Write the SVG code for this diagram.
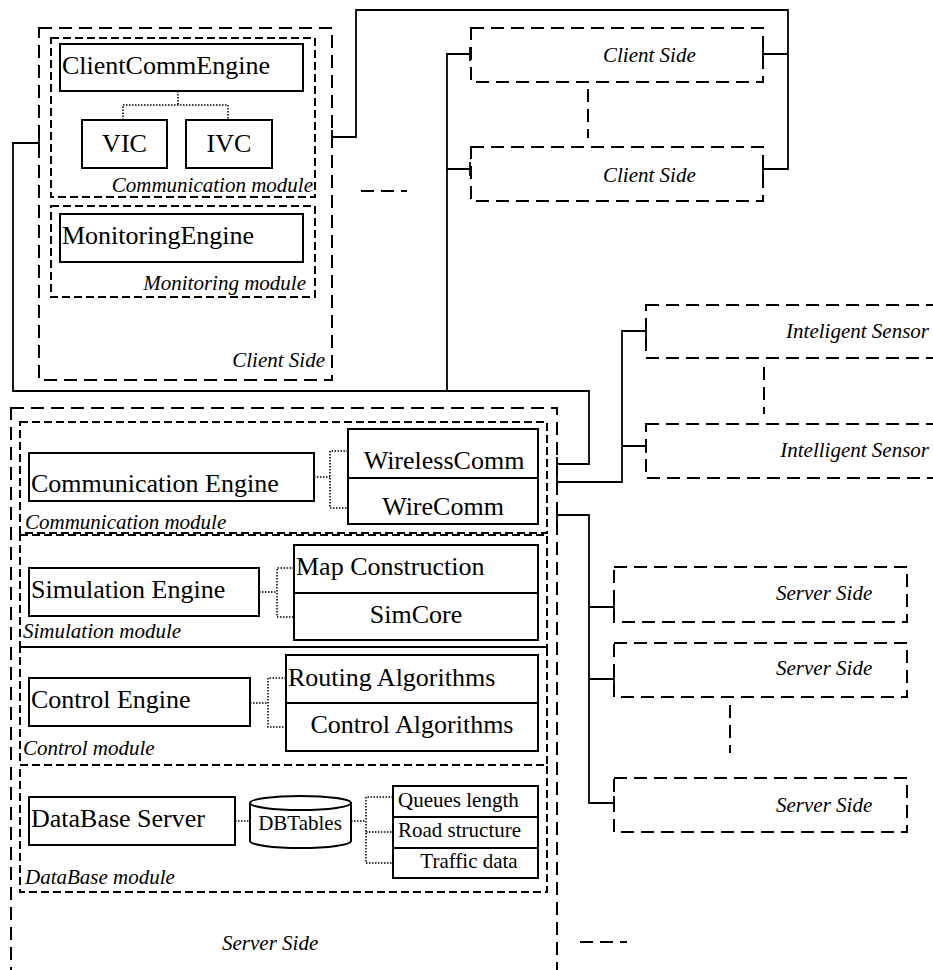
<svg xmlns="http://www.w3.org/2000/svg" width="933" height="970" viewBox="0 0 933 970">
<style>
.big{fill:none;stroke:#000;stroke-width:2;stroke-dasharray:13 7}
.mod{fill:none;stroke:#000;stroke-width:2;stroke-dasharray:8 4}
.box{fill:#fff;stroke:#000;stroke-width:2}
.dot{fill:none;stroke:#000;stroke-width:1.5;stroke-dasharray:1.5 1.5}
.wire{fill:none;stroke:#000;stroke-width:1.8}
.t{font-family:"Liberation Serif","Times New Roman",serif;font-size:26px;fill:#000}
.s{font-family:"Liberation Serif","Times New Roman",serif;font-size:21px;fill:#000}
.i{font-family:"Liberation Serif","Times New Roman",serif;font-size:21px;font-style:italic;fill:#000}
.m{text-anchor:middle}
.e{text-anchor:end}
</style>
<rect width="933" height="970" fill="#fff"/>

<g id="connectors">
<path class="wire" d="M39,143 H13 V391 H589 V464 H557"/>
<path class="wire" d="M447,391 V54 H470 M447,169 H470"/>
<path class="wire" d="M332,137 H356 V10 H788 V169 H763 M788,54 H763"/>
<path class="wire" d="M557,482 H622 V331 H646 M622,446 H646"/>
<path class="wire" d="M557,515 H589 V803 H614 M589,607 H614 M589,679 H614"/>
<path class="wire" d="M39,135 V151 M332,130 V145 M470,47 V61 M470,162 V176 M763,47 V61 M763,162 V176 M646,324 V338 M646,439 V453 M557,457 V471 M557,475 V489 M557,508 V522 M614,600 V614 M614,672 V686 M614,796 V810"/>
<path class="big" d="M588,89 V138 M764,367 V414 M730,705 V753"/>
<path class="big" d="M361,191 H407 M580,942 H627"/>
<path class="dot" d="M178,91 V105 M123,120 V105 H228 V120"/>
<path class="dot" d="M314,477 H330 M348,451 H330 V508 H348"/>
<path class="dot" d="M259,592 H277 M294,568 H277 V617 H294"/>
<path class="dot" d="M250,703 H268 M286,678 H268 V727 H286"/>
<path class="dot" d="M235,821 H250 M351,821 H366 M393,797 H366 V863 H393 M366,832 H393"/>
</g>

<g id="client-side">
<rect class="big" x="39" y="28" width="293" height="352"/>
<text class="i e" x="325" y="367">Client Side</text>
</g>
<g id="client-comm-module">
<rect class="mod" x="51" y="38" width="264" height="159"/>
<text class="i e" x="313" y="192">Communication module</text>
</g>
<g id="client-comm-engine">
<rect class="box" x="60" y="44" width="243" height="47"/>
<text class="t" x="62" y="74">ClientCommEngine</text>
</g>
<g id="vic">
<rect class="box" x="82" y="120" width="85" height="48"/>
<text class="t m" x="124.5" y="152">VIC</text>
</g>
<g id="ivc">
<rect class="box" x="186" y="120" width="86" height="48"/>
<text class="t m" x="229" y="152">IVC</text>
</g>
<g id="monitoring-module">
<rect class="mod" x="51" y="206" width="264" height="91"/>
<text class="i e" x="306" y="290">Monitoring module</text>
</g>
<g id="monitoring-engine">
<rect class="box" x="60" y="214" width="243" height="48"/>
<text class="t" x="62" y="244">MonitoringEngine</text>
</g>

<g id="client-side-1">
<rect class="big" x="471" y="28" width="292" height="54"/>
<text class="i" x="603" y="62">Client Side</text>
</g>
<g id="client-side-2">
<rect class="big" x="471" y="147" width="292" height="54"/>
<text class="i" x="603" y="182">Client Side</text>
</g>

<g id="sensor-1">
<rect class="big" x="646" y="305" width="300" height="53"/>
<text class="i e" x="929" y="338">Inteligent Sensor</text>
</g>
<g id="sensor-2">
<rect class="big" x="646" y="424" width="300" height="54"/>
<text class="i e" x="929" y="457">Intelligent Sensor</text>
</g>

<g id="server-1">
<rect class="big" x="614" y="567" width="293" height="55"/>
<text class="i" x="776" y="600">Server Side</text>
</g>
<g id="server-2">
<rect class="big" x="614" y="643" width="293" height="54"/>
<text class="i" x="776" y="675">Server Side</text>
</g>
<g id="server-3">
<rect class="big" x="614" y="778" width="293" height="54"/>
<text class="i" x="776" y="812">Server Side</text>
</g>

<g id="server-side">
<rect class="big" x="11" y="408" width="546" height="580"/>
<text class="i" x="222" y="950">Server Side</text>
</g>
<g id="server-comm-module">
<rect class="mod" x="20" y="422" width="527" height="111"/>
<text class="i" x="25" y="529">Communication module</text>
</g>
<g id="communication-engine">
<rect class="box" x="29" y="453" width="285" height="48"/>
<text class="t" x="31" y="492">Communication Engine</text>
</g>
<g id="comm-types">
<rect class="box" x="348" y="429" width="190" height="95"/>
<line class="wire" x1="348" y1="478" x2="538" y2="478"/>
<text class="t m" x="444" y="469">WirelessComm</text>
<text class="t m" x="443" y="515">WireComm</text>
</g>
<g id="simulation-module">
<rect class="mod" x="20" y="535" width="527" height="112"/>
<text class="i" x="23" y="638">Simulation module</text>
</g>
<g id="simulation-engine">
<rect class="box" x="29" y="568" width="230" height="48"/>
<text class="t" x="31" y="598">Simulation Engine</text>
</g>
<g id="sim-parts">
<rect class="box" x="294" y="545" width="244" height="95"/>
<line class="wire" x1="294" y1="593" x2="538" y2="593"/>
<text class="t" x="296" y="575">Map Construction</text>
<text class="t m" x="416" y="623">SimCore</text>
</g>
<g id="control-module">
<rect class="mod" x="20" y="647" width="527" height="118"/>
<text class="i" x="23" y="755">Control module</text>
</g>
<g id="control-engine">
<rect class="box" x="29" y="678" width="221" height="48"/>
<text class="t" x="31" y="708">Control Engine</text>
</g>
<g id="algorithms">
<rect class="box" x="286" y="655" width="252" height="96"/>
<line class="wire" x1="286" y1="703" x2="538" y2="703"/>
<text class="t" x="288" y="686">Routing Algorithms</text>
<text class="t m" x="412" y="733">Control Algorithms</text>
</g>
<g id="database-module">
<rect class="mod" x="20" y="765" width="527" height="127"/>
<text class="i" x="25" y="884">DataBase module</text>
</g>
<g id="database-server">
<rect class="box" x="29" y="797" width="206" height="48"/>
<text class="t" x="31" y="827">DataBase Server</text>
</g>
<g id="dbtables">
<path class="box" d="M250,803 V841 A50.5,7 0 0 0 351,841 V803 A50.5,7 0 0 0 250,803 A50.5,7 0 0 0 351,803"/>
<text class="s m" x="300" y="830">DBTables</text>
</g>
<g id="tables">
<rect class="box" x="393" y="786" width="145" height="92"/>
<line class="wire" x1="393" y1="817" x2="538" y2="817"/>
<line class="wire" x1="393" y1="848" x2="538" y2="848"/>
<text class="s" x="398" y="807">Queues length</text>
<text class="s" x="398" y="837">Road structure</text>
<text class="s m" x="469" y="868">Traffic data</text>
</g>
</svg>
